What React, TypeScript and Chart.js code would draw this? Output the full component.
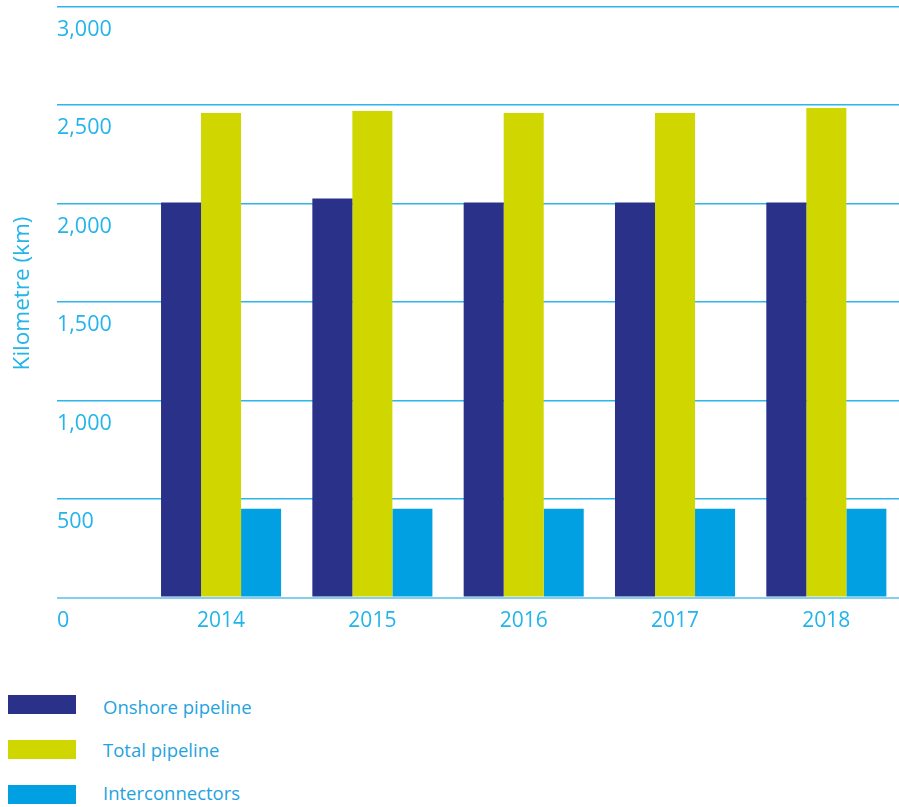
import React, { useEffect, useRef } from 'react';
import { Chart, registerables } from 'chart.js';

Chart.register(...registerables);

const categories = ['2014', '2015', '2016', '2017', '2018'];
const onshorePipeline = [2005, 2025, 2005, 2005, 2005];
const totalPipeline = [2460, 2470, 2460, 2460, 2485];
const interconnectors = [450, 450, 450, 450, 450];
const seriesNames = ['Onshore pipeline', 'Total pipeline', 'Interconnectors'];
const seriesColors = ['#2a3188', '#cfd600', '#00a0e3'];
const yMin = 0;
const yMax = 3000;
const yStep = 500;
const yAxisTitle = 'Kilometre (km)';

const TEXT = '#22b4ea';
const LEGEND_TEXT = '#1fa3e0';
const FONT = '"Open Sans", "Noto Sans", sans-serif';

const titlePlugin = {
  id: 'yTitleCustom',
  afterDraw(chart: any) {
    const ctx = chart.ctx;
    ctx.save();
    ctx.translate(22.5, 293.5);
    ctx.rotate(-Math.PI / 2);
    ctx.font = `22.5px ${FONT}`;
    ctx.fillStyle = TEXT;
    ctx.textAlign = 'center';
    ctx.textBaseline = 'middle';
    ctx.fillText(yAxisTitle, 0, 0);
    ctx.restore();
  },
};

export default function App() {
  const canvasRef = useRef<HTMLCanvasElement | null>(null);

  useEffect(() => {
    let chart: Chart | null = null;
    let cancelled = false;
    const seriesData = [onshorePipeline, totalPipeline, interconnectors];
    const build = () => {
      if (cancelled || !canvasRef.current) return;
      chart = new Chart(canvasRef.current, {
        type: 'bar',
        data: {
          labels: categories,
          datasets: seriesNames.map((name, i) => ({
            label: name,
            data: seriesData[i],
            backgroundColor: seriesColors[i],
            borderWidth: 0,
            barPercentage: 1,
            categoryPercentage: 0.7934,
          })),
        },
        options: {
          responsive: false,
          animation: false,
          devicePixelRatio: 1,
          layout: { padding: { left: 57, top: 6.5, right: 0, bottom: 0 } },
          plugins: {
            legend: { display: false },
            tooltip: { enabled: false },
            title: { display: false },
          },
          scales: {
            x: {
              grid: { display: false, drawTicks: false },
              border: { display: false },
              ticks: {
                color: TEXT,
                font: { family: FONT, size: 21 },
                padding: 11,
                maxRotation: 0,
              },
              afterFit(scale: any) {
                scale.height = 62.5;
                scale.paddingLeft = 0;
                scale.paddingRight = 0;
              },
            },
            y: {
              min: yMin,
              max: yMax,
              border: { display: false },
              grid: {
                color: (c: any) => (c.tick && c.tick.value === 0 ? '#84cfef' : '#2cb6ea'),
                lineWidth: (c: any) => (c.tick && c.tick.value === 0 ? 2 : 1.5),
                drawTicks: true,
                tickLength: 88.4,
              },
              ticks: {
                stepSize: yStep,
                color: TEXT,
                font: { family: FONT, size: 21.5 },
                crossAlign: 'far',
                padding: 0,
                labelOffset: 23.3,
              },
              afterFit(scale: any) {
                scale.width = 88.4;
                scale.paddingTop = 0;
                scale.paddingBottom = 0;
              },
            },
          },
        },
        plugins: [titlePlugin],
      } as any);
    };
    const fontsReady = (document as any).fonts
      ? Promise.all([
          (document as any).fonts.load(`21px "Open Sans"`),
          (document as any).fonts.load(`18.5px "Open Sans"`),
        ]).catch(() => null)
      : Promise.resolve(null);
    fontsReady.then(build);
    return () => {
      cancelled = true;
      if (chart) chart.destroy();
    };
  }, []);

  const squareTops = [695, 740, 785];
  const textTops = [695, 738, 781];

  return (
    <div
      style={{
        position: 'fixed',
        left: 0,
        top: 0,
        width: 899,
        height: 807,
        overflow: 'hidden',
        background: '#ffffff',
      }}
    >
      <canvas ref={canvasRef} width={902} height={660} style={{ display: 'block', position: 'absolute', left: 0, top: 0 }} />
      {seriesNames.map((name, i) => (
        <React.Fragment key={name}>
          <div
            style={{
              position: 'absolute',
              left: 8,
              top: squareTops[i],
              width: 68,
              height: 19,
              background: seriesColors[i],
            }}
          />
          <div
            style={{
              position: 'absolute',
              left: 103,
              top: textTops[i],
              fontFamily: FONT,
              fontSize: 18.5,
              lineHeight: '24px',
              color: LEGEND_TEXT,
              whiteSpace: 'nowrap',
            }}
          >
            {name}
          </div>
        </React.Fragment>
      ))}
    </div>
  );
}
